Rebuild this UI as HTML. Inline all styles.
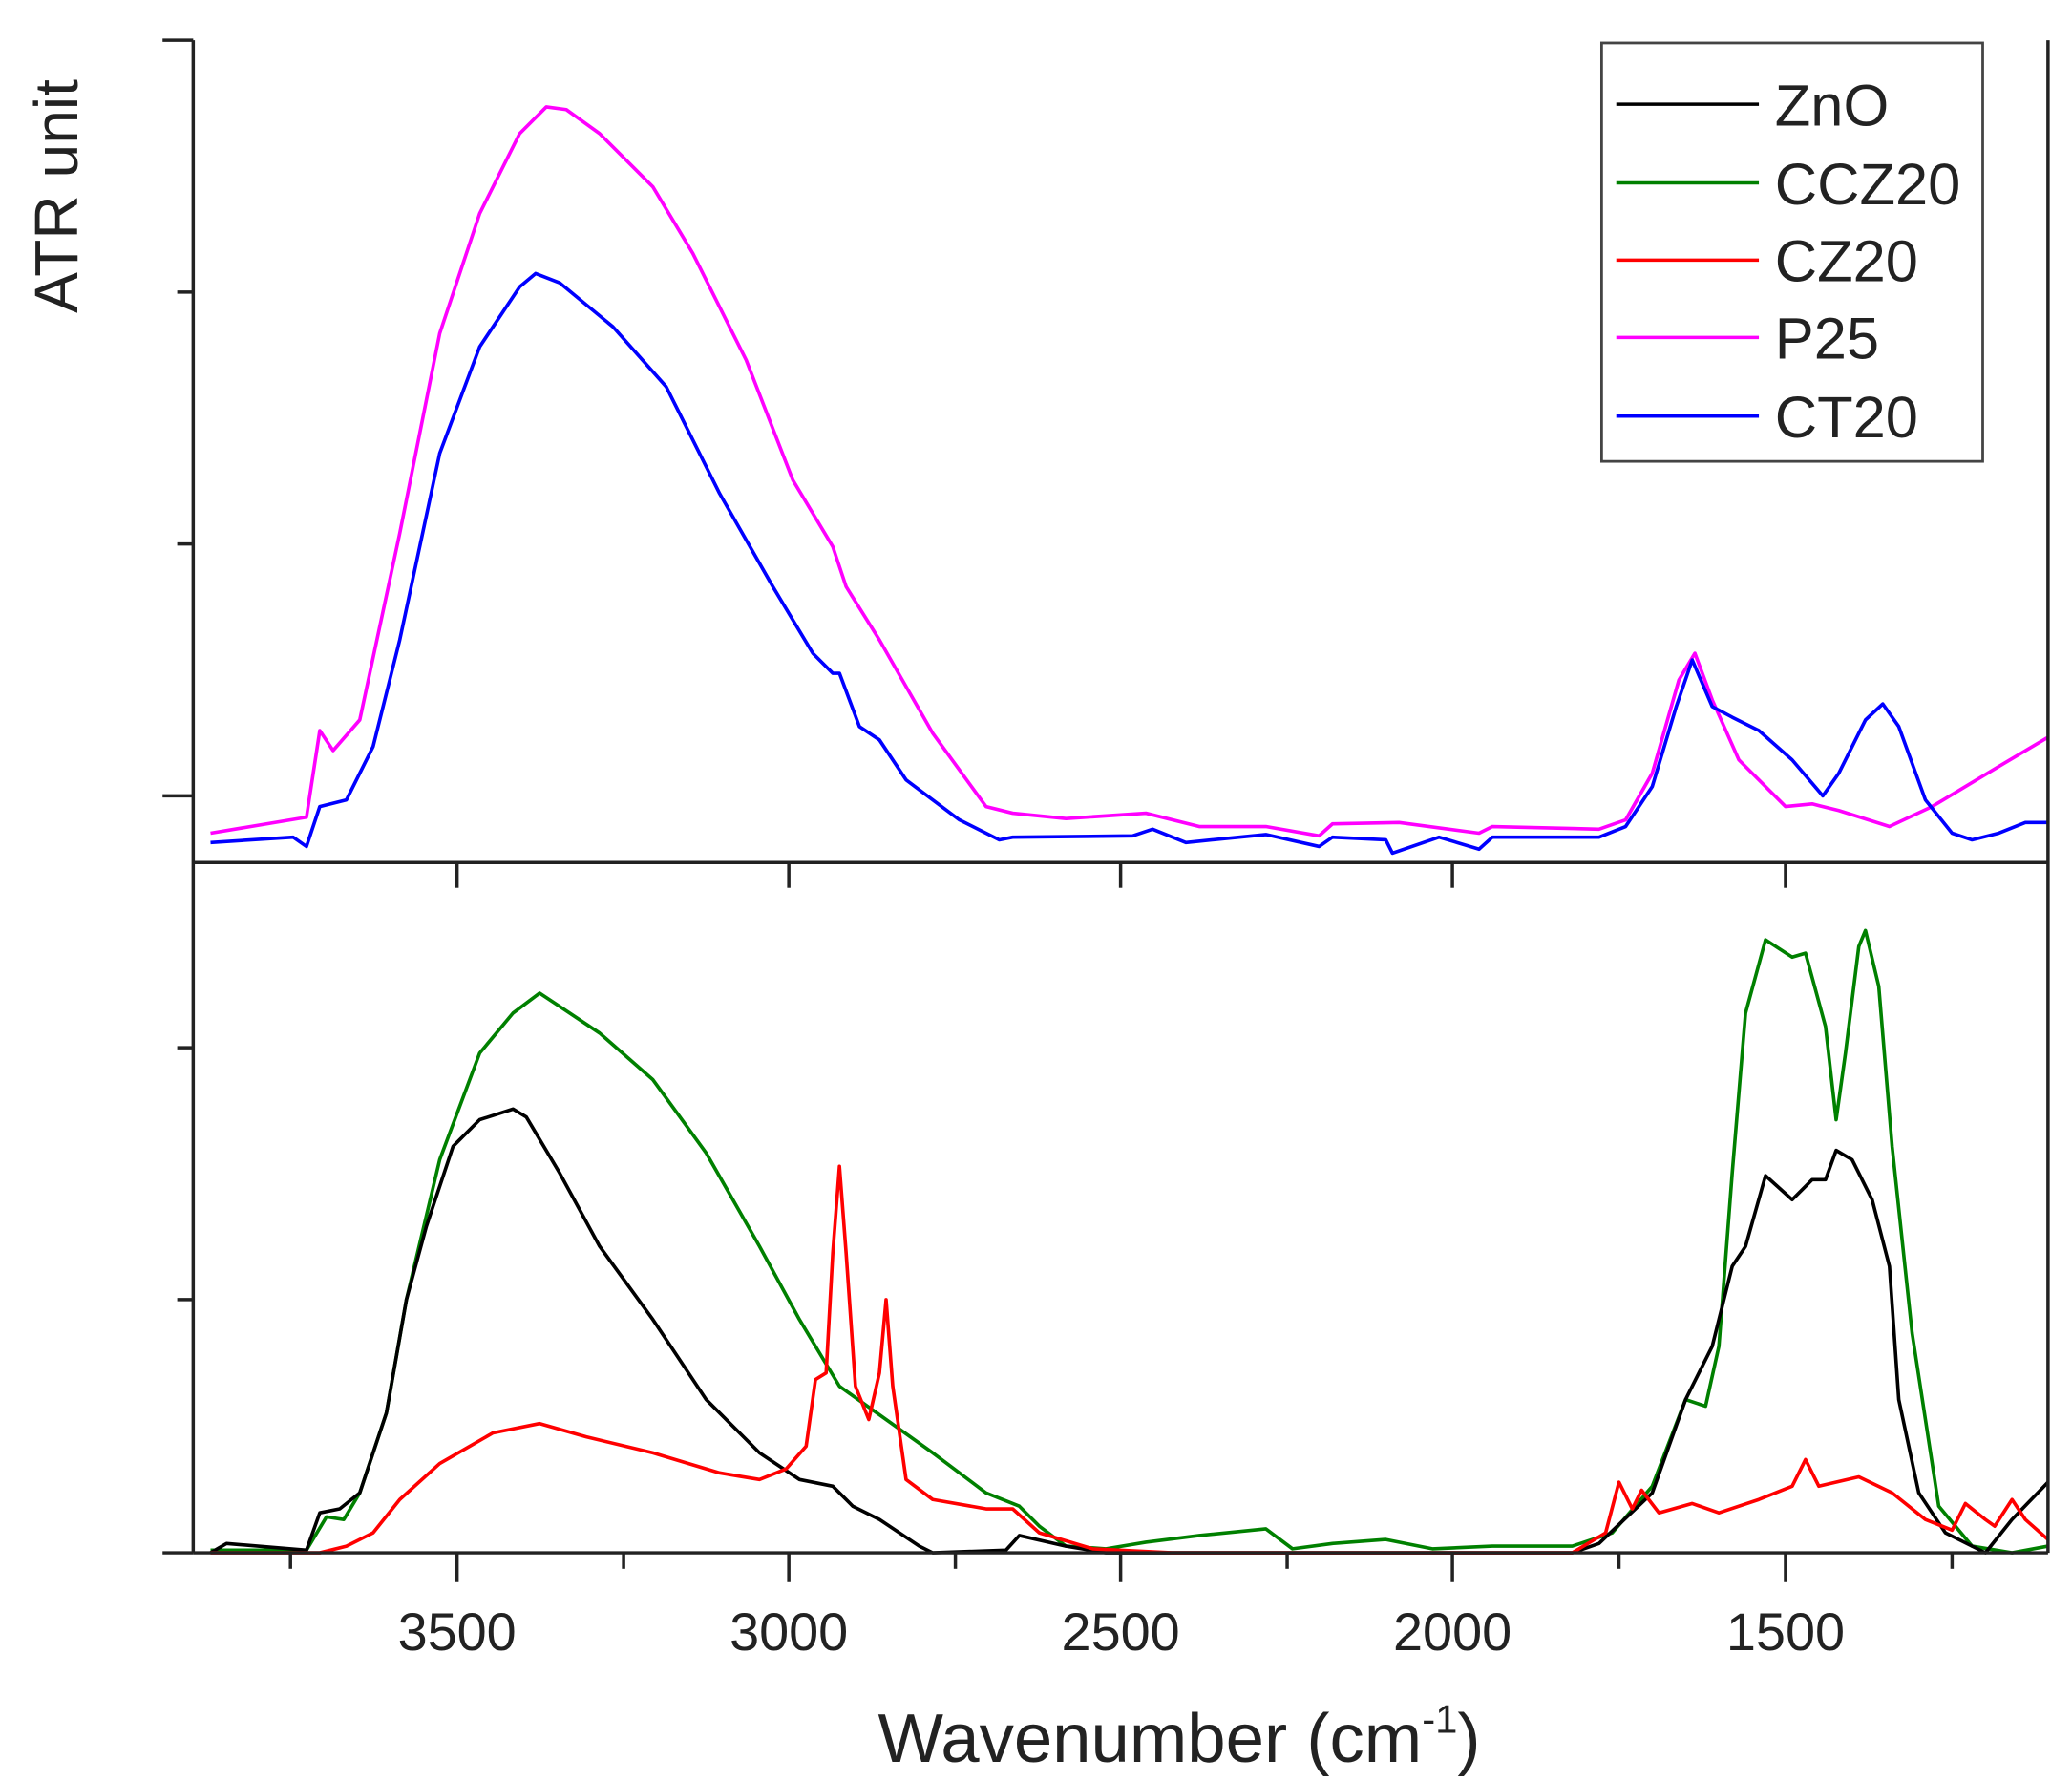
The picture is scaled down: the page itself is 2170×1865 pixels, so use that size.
<!DOCTYPE html>
<html><head><meta charset="utf-8"><style>html,body{margin:0;padding:0;background:#fff}svg{display:block}</style></head>
<body>
<svg width="2170" height="1865" viewBox="0 0 1555 1336" xmlns="http://www.w3.org/2000/svg" font-family="Liberation Sans, Arial, sans-serif">
<rect width="1555" height="1336" fill="#fff"/>
<g fill="none" stroke-width="2.6" stroke-linejoin="round">
<polyline stroke="#ff00ff" points="158,625 230,613 240,548 250,563 270,540 300,400 330,250 360,160 390,100 410,80 425,82 450,100 490,140 520,190 560,270 595,360 625,410 635,440 660,480 700,550 740,605 760,610 800,614 860,610 900,620 950,620 990,627 1000,618 1050,617 1110,625 1120,620 1200,622 1220,615 1240,580 1260,510 1272,490 1285,525 1305,570 1340,605 1360,603 1380,608 1418,620 1450,605 1500,575 1537,553"/>
<polyline stroke="#0000ff" points="158,632 220,628 230,635 240,605 260,600 280,560 300,480 330,340 360,260 390,215 402,205 420,212 460,245 500,290 540,370 580,440 610,490 625,505 630,505 645,545 660,555 680,585 720,615 750,630 760,628 850,627 865,622 890,632 950,626 990,635 1000,628 1040,630 1045,640 1080,628 1110,637 1120,628 1200,628 1220,620 1240,590 1258,530 1270,495 1285,530 1300,538 1320,548 1345,570 1368,597 1380,580 1400,540 1413,528 1425,545 1445,600 1465,625 1480,630 1500,625 1520,617 1537,617"/>
<polyline stroke="#008000" points="158,1163 230,1163 245,1138 258,1140 270,1120 290,1060 305,975 330,870 360,790 385,760 405,745 420,755 450,775 490,810 530,865 570,935 600,990 630,1040 700,1090 740,1120 765,1130 780,1145 800,1160 830,1162 860,1157 900,1152 950,1147 970,1162 1000,1158 1040,1155 1075,1162 1120,1160 1180,1160 1210,1150 1240,1115 1265,1050 1280,1055 1290,1010 1300,880 1310,760 1325,705 1345,718 1355,715 1370,770 1378,840 1385,790 1395,710 1400,698 1410,740 1420,860 1435,1000 1455,1130 1480,1160 1510,1165 1537,1160"/>
<polyline stroke="#000000" points="158,1165 170,1158 230,1163 240,1135 255,1132 270,1120 290,1060 305,975 320,920 340,860 360,840 385,832 395,838 420,880 450,935 490,990 530,1050 570,1090 600,1110 625,1115 640,1130 660,1140 690,1160 700,1165 755,1163 765,1152 800,1160 830,1165 1075,1165 1180,1165 1200,1158 1240,1120 1265,1050 1285,1010 1300,950 1310,935 1325,882 1345,900 1360,885 1370,885 1378,863 1390,870 1405,900 1418,950 1425,1050 1440,1120 1460,1150 1490,1165 1510,1140 1537,1112"/>
<polyline stroke="#ff0000" points="158,1165 240,1165 260,1160 280,1150 300,1125 330,1098 370,1075 405,1068 440,1078 490,1090 540,1105 570,1110 590,1102 605,1085 612,1035 620,1030 625,940 630,875 635,940 642,1040 652,1065 660,1030 665,975 670,1040 680,1110 700,1125 740,1132 760,1132 780,1150 820,1162 880,1165 1180,1165 1205,1150 1215,1112 1225,1132 1232,1118 1245,1135 1270,1128 1290,1135 1320,1125 1345,1115 1355,1095 1365,1115 1395,1108 1420,1120 1445,1140 1465,1148 1475,1128 1490,1140 1497,1145 1510,1125 1520,1140 1537,1155"/>
</g>
<g stroke="#222" stroke-width="2.5" fill="none">
<line x1="145" y1="30" x2="145" y2="1165"/>
<line x1="1537" y1="30" x2="1537" y2="1165"/>
<line x1="145" y1="647" x2="1537" y2="647"/>
<line x1="145" y1="1165" x2="1537" y2="1165"/>
<line x1="122" y1="30" x2="145" y2="30"/><line x1="133" y1="219" x2="145" y2="219"/><line x1="133" y1="408" x2="145" y2="408"/><line x1="122" y1="597" x2="145" y2="597"/>
<line x1="133" y1="786" x2="145" y2="786"/><line x1="133" y1="975" x2="145" y2="975"/><line x1="122" y1="1165" x2="145" y2="1165"/>
<line x1="343" y1="647" x2="343" y2="666"/><line x1="592" y1="647" x2="592" y2="666"/><line x1="841" y1="647" x2="841" y2="666"/><line x1="1090" y1="647" x2="1090" y2="666"/><line x1="1340" y1="647" x2="1340" y2="666"/>
<line x1="343" y1="1165" x2="343" y2="1187"/><line x1="592" y1="1165" x2="592" y2="1187"/><line x1="841" y1="1165" x2="841" y2="1187"/><line x1="1090" y1="1165" x2="1090" y2="1187"/><line x1="1340" y1="1165" x2="1340" y2="1187"/>
<line x1="218" y1="1165" x2="218" y2="1177"/><line x1="468" y1="1165" x2="468" y2="1177"/><line x1="717" y1="1165" x2="717" y2="1177"/><line x1="966" y1="1165" x2="966" y2="1177"/><line x1="1215" y1="1165" x2="1215" y2="1177"/><line x1="1465" y1="1165" x2="1465" y2="1177"/>
</g>
<g font-size="40" fill="#222" text-anchor="middle">
<text x="343" y="1238">3500</text><text x="592" y="1238">3000</text><text x="841" y="1238">2500</text><text x="1090" y="1238">2000</text><text x="1340" y="1238">1500</text>
</g>
<text x="885" y="1322" font-size="52" text-anchor="middle" fill="#222">Wavenumber (cm<tspan font-size="30" dy="-22">-1</tspan><tspan dy="22">)</tspan></text>
<text transform="translate(58,147) rotate(-90)" font-size="46" text-anchor="middle" fill="#222">ATR unit</text>
<rect x="1202" y="32" width="286" height="314" fill="#fff" stroke="#444" stroke-width="2"/>
<g stroke-width="2.5">
<line x1="1213" y1="78" x2="1320" y2="78" stroke="#000"/>
<line x1="1213" y1="137" x2="1320" y2="137" stroke="#008000"/>
<line x1="1213" y1="195" x2="1320" y2="195" stroke="#ff0000"/>
<line x1="1213" y1="253" x2="1320" y2="253" stroke="#ff00ff"/>
<line x1="1213" y1="312" x2="1320" y2="312" stroke="#0000ff"/>
</g>
<g font-size="44" fill="#222">
<text x="1332" y="94">ZnO</text><text x="1332" y="153">CCZ20</text><text x="1332" y="211">CZ20</text><text x="1332" y="269">P25</text><text x="1332" y="328">CT20</text>
</g>
</svg>
</body></html>
